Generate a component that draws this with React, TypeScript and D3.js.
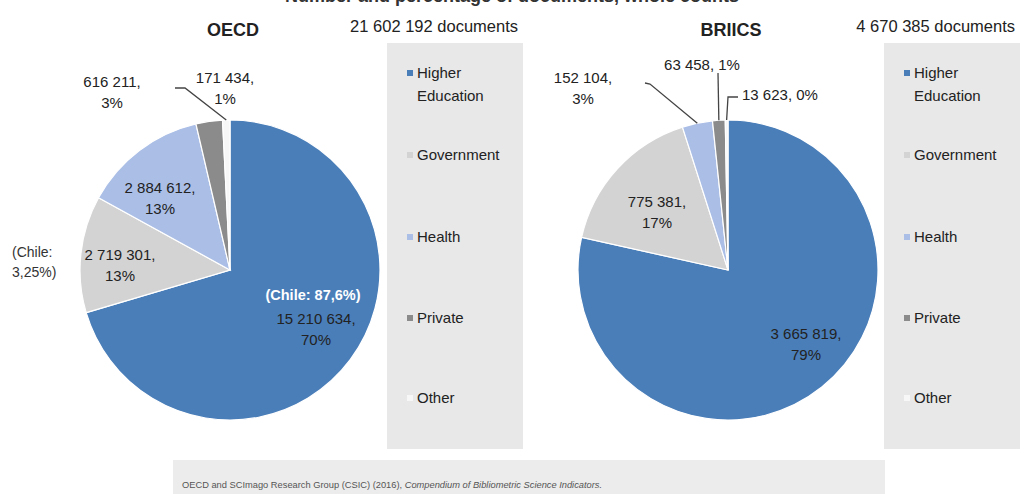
import React from 'react';
import * as d3 from 'd3';

// sectors, in the order the slices run clockwise from 12 o'clock
const sectors = ['Higher Education', 'Government', 'Health', 'Private', 'Other'];
const oecdValues = [15210634, 2719301, 2884612, 616211, 171434];
const briicsValues = [3665819, 775381, 152104, 63458, 13623];
const oecdPercents = ['70%', '13%', '13%', '3%', '1%'];
const briicsPercents = ['79%', '17%', '3%', '1%', '0%'];
const oecdTotal = '21 602 192 documents';
const briicsTotal = '4 670 385 documents';

const colors = ['#4a7eb9', '#d3d3d3', '#aabee6', '#8b8b8b', '#f7f7f7'];
const FONT = '"Liberation Sans", Arial, sans-serif';

const fmt = (v: number) => d3.format(',')(v).replace(/,/g, ' ');

type Label = {
  dx: number;
  dy: number;
  anchor?: 'start' | 'middle';
  oneLine?: boolean;
  leader?: [number, number][];
};

type Note = { lines: string[]; dx: number; dy: number; anchor: 'start' | 'middle'; fill: string; weight: number };

interface PieProps {
  cx: number;
  cy: number;
  r: number;
  values: number[];
  percents: string[];
  title: string;
  total: string;
  legendX: number;
  labels: Label[];
  notes?: Note[];
}

const PiePanel: React.FC<PieProps> = ({ cx, cy, r, values, percents, title, total, legendX, labels, notes = [] }) => {
  const pie = d3.pie<number>().sort(null).value(d => d);
  const arcs = pie(values);
  const arc = d3.arc<d3.PieArcDatum<number>>().innerRadius(0).outerRadius(r);
  const lineGen = d3.line();
  const legendRows = [73, 155, 237, 318, 398];

  return (
    <g>
      <text x={cx + 3} y={36} textAnchor="middle" fontFamily={FONT} fontSize={18} fontWeight="bold" fill="#222">{title}</text>
      <text x={legendX + 131} y={32} textAnchor="end" fontFamily={FONT} fontSize={16.5} fill="#222">{total}</text>

      {/* legend */}
      <rect x={legendX} y={43} width={136} height={406} fill="#e8e8e8" />
      {sectors.map((s, i) => {
        const words = i === 0 ? ['Higher', 'Education'] : [s];
        return (
          <g key={s}>
            <rect x={legendX + 20} y={legendRows[i] - 3} width={6} height={6} fill={colors[i]} />
            {words.map((w, j) => (
              <text key={w} x={legendX + 30} y={legendRows[i] + 5 + j * 23} fontFamily={FONT} fontSize={15} fill="#222">{w}</text>
            ))}
          </g>
        );
      })}

      {/* slices */}
      <g transform={`translate(${cx},${cy})`}>
        {arcs.map((a, i) => (
          <path key={i} d={arc(a) || ''} fill={colors[i]} stroke="#ffffff" strokeWidth={1.2} />
        ))}
        {labels.map((l, i) => {
          const a = arcs[i];
          const mid = (a.startAngle + a.endAngle) / 2;
          const edge: [number, number] = [Math.sin(mid) * r, -Math.cos(mid) * r];
          const lines = l.oneLine ? [`${fmt(values[i])}, ${percents[i]}`] : [`${fmt(values[i])},`, percents[i]];
          return (
            <g key={i}>
              {l.leader && (
                <path d={lineGen([...l.leader, edge]) || ''} fill="none" stroke="#444" strokeWidth={1.3} />
              )}
              {lines.map((t, j) => (
                <text key={j} x={l.dx} y={l.dy + 5 + j * 21} textAnchor={l.anchor || 'middle'} fontFamily={FONT} fontSize={15} fill="#222">{t}</text>
              ))}
            </g>
          );
        })}
        {notes.map((n, i) => (
          <g key={i}>
            {n.lines.map((t, j) => (
              <text key={j} x={n.dx} y={n.dy + 5 + j * 20} textAnchor={n.anchor} fontFamily={FONT} fontSize={n.weight === 700 ? 14.5 : 14} fontWeight={n.weight} fill={n.fill}>{t}</text>
            ))}
          </g>
        ))}
      </g>
    </g>
  );
};

const oecdLabels: Label[] = [
  { dx: 86, dy: 49 },
  { dx: -110, dy: -15 },
  { dx: -70, dy: -82 },
  { dx: -118, dy: -188 },
  { dx: -5, dy: -192, leader: [[-55, -182], [-45, -182]] },
];

const briicsLabels: Label[] = [
  { dx: 78, dy: 64 },
  { dx: -71, dy: -68 },
  { dx: -145, dy: -192, leader: [[-83, -187], [-78, -186]] },
  { dx: -26, dy: -205, oneLine: true, leader: [[-10, -197]] },
  { dx: 14, dy: -175, oneLine: true, anchor: 'start', leader: [[10, -173], [0, -173]] },
];

const oecdNotes: Note[] = [
  { lines: ['(Chile: 87,6%)'], dx: 83, dy: 25, anchor: 'middle', fill: '#ffffff', weight: 700 },
  { lines: ['(Chile:', '3,25%)'], dx: -218, dy: -18, anchor: 'start', fill: '#333', weight: 400 },
];

export default function App() {
  return (
    <svg width={1026} height={494} style={{ position: 'absolute', left: 0, top: 0, background: '#fff' }}>
      {/* the heading sits mostly above the top edge, as in the source image */}
      <text x={512} y={2} textAnchor="middle" fontFamily={FONT} fontSize={18} fontWeight="bold" fill="#333">Number and percentage of documents, whole counts</text>

      <PiePanel
        cx={230} cy={270} r={150}
        values={oecdValues} percents={oecdPercents}
        title="OECD" total={oecdTotal} legendX={387}
        labels={oecdLabels}
        notes={oecdNotes}
      />
      <PiePanel
        cx={728} cy={270} r={150}
        values={briicsValues} percents={briicsPercents}
        title="BRIICS" total={briicsTotal} legendX={884}
        labels={briicsLabels}
      />

      <rect x={173} y={460} width={712} height={40} fill="#ececec" />
      <text x={182} y={488} fontFamily={FONT} fontSize={9.3} fill="#555">
        OECD and SCImago Research Group (CSIC) (2016), <tspan fontStyle="italic">Compendium of Bibliometric Science Indicators.</tspan>
      </text>
    </svg>
  );
}
